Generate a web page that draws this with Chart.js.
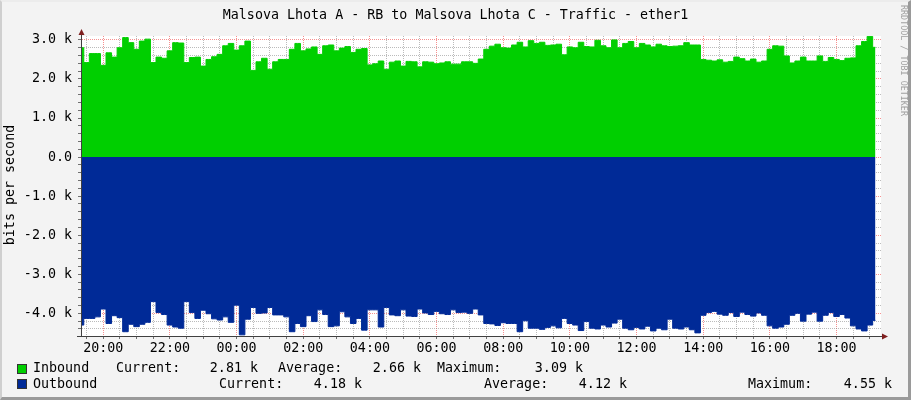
<!DOCTYPE html>
<html>
<head>
<meta charset="utf-8">
<script src="https://cdn.jsdelivr.net/npm/chart.js@4.4.1/dist/chart.umd.min.js"></script>
<style>
html, body { margin: 0; padding: 0; background: #fff; }
#wrap { position: relative; width: 911px; height: 400px; background: #f3f3f3; overflow: hidden;
  font-family: "DejaVu Sans Mono", monospace; font-size: 13.33px; color: #000; }
#wrap canvas { position: absolute; left: 0; top: 0; }
.t { position: absolute; white-space: pre; line-height: 16px; }
.r { text-align: right; }
.box { position: absolute; width: 10px; height: 10px; box-sizing: border-box; border: 1px solid #333; }
#frame { position: absolute; left: 0; top: 0; width: 911px; height: 400px; box-sizing: border-box;
  border-left: 2px solid #cfcfcf; border-top: 2px solid #ececec; border-right: 3px solid #9a9a9a; border-bottom: 3px solid #9a9a9a; pointer-events: none; }
#title { left: 0; width: 911px; top: 7px; text-align: center; }
#ylab { left: 10px; top: 185px; transform: translate(-50%, -50%) rotate(-90deg); }
#credit { left: 899px; top: 5px; writing-mode: vertical-rl; font-size: 8.4px; line-height: 10px; color: #a0a0a0; }
</style>
</head>
<body>
<div id="wrap">
  <canvas id="graph" width="911" height="400"></canvas>
  <div id="frame"></div>
  <div class="t" id="title">Malsova Lhota A - RB to Malsova Lhota C - Traffic - ether1</div>
  <div class="t" id="ylab">bits per second</div>
  <div class="t" id="credit">RRDTOOL / TOBI OETIKER</div>

  <div class="box" style="left:17px;top:364px;background:#00CF00"></div>
  <div class="t" style="left:33px;top:360px">Inbound</div>
  <div class="t" style="left:116px;top:360px">Current:</div>
  <div class="t r" style="right:653px;top:360px">2.81 k</div>
  <div class="t" style="left:278px;top:360px">Average:</div>
  <div class="t r" style="right:490px;top:360px">2.66 k</div>
  <div class="t" style="left:437px;top:360px">Maximum:</div>
  <div class="t r" style="right:328px;top:360px">3.09 k</div>

  <div class="box" style="left:17px;top:379px;background:#002A97"></div>
  <div class="t" style="left:33px;top:376px">Outbound</div>
  <div class="t" style="left:219px;top:376px">Current:</div>
  <div class="t r" style="right:549px;top:376px">4.18 k</div>
  <div class="t" style="left:484px;top:376px">Average:</div>
  <div class="t r" style="right:284px;top:376px">4.12 k</div>
  <div class="t" style="left:748px;top:376px">Maximum:</div>
  <div class="t r" style="right:19px;top:376px">4.55 k</div>
</div>
<script>
// 10 minute samples starting at 19:20, values in kbit/s
const startHour = 19 + 20 / 60;
const stepMinutes = 10;

const inbound = [
  2.80, 2.42, 2.65, 2.65, 2.35, 2.67, 2.56, 2.80, 3.06, 2.93,
  2.76, 2.97, 3.02, 2.42, 2.56, 2.53, 2.72, 2.93, 2.92, 2.42,
  2.55, 2.56, 2.33, 2.50, 2.57, 2.63, 2.85, 2.91, 2.74, 2.85,
  2.97, 2.22, 2.44, 2.53, 2.25, 2.44, 2.50, 2.50, 2.76, 2.91,
  2.72, 2.77, 2.82, 2.63, 2.85, 2.87, 2.72, 2.79, 2.83, 2.68,
  2.76, 2.78, 2.36, 2.39, 2.46, 2.25, 2.43, 2.46, 2.33, 2.45,
  2.44, 2.31, 2.44, 2.43, 2.39, 2.41, 2.44, 2.38, 2.38, 2.44,
  2.44, 2.40, 2.51, 2.76, 2.84, 2.89, 2.80, 2.79, 2.87, 2.94,
  2.82, 2.98, 2.91, 2.94, 2.86, 2.87, 2.89, 2.62, 2.82, 2.80,
  2.94, 2.83, 2.82, 2.99, 2.85, 2.80, 3.00, 2.80, 2.91, 2.96,
  2.80, 2.91, 2.87, 2.82, 2.89, 2.85, 2.83, 2.84, 2.85, 2.93,
  2.87, 2.87, 2.50, 2.48, 2.46, 2.49, 2.43, 2.45, 2.56, 2.52,
  2.46, 2.51, 2.43, 2.46, 2.76, 2.85, 2.84, 2.59, 2.41, 2.46,
  2.56, 2.46, 2.46, 2.59, 2.45, 2.55, 2.50, 2.47, 2.53, 2.54,
  2.85, 2.96, 3.09, 2.81
];

// outbound is drawn below zero
const outbound = [
  4.30, 4.13, 4.13, 4.09, 3.89, 4.26, 4.06, 4.11, 4.47, 4.28,
  4.34, 4.28, 4.23, 3.70, 3.98, 4.03, 4.30, 4.35, 4.38, 3.70,
  3.98, 4.13, 3.92, 4.01, 4.14, 4.17, 4.09, 4.23, 3.79, 4.55,
  4.15, 3.85, 4.00, 3.99, 3.85, 4.04, 4.04, 4.09, 4.47, 4.26,
  4.34, 4.06, 4.21, 3.91, 4.03, 4.34, 4.32, 3.96, 4.09, 4.26,
  4.13, 4.43, 3.91, 3.91, 4.35, 3.85, 4.04, 4.06, 3.91, 4.07,
  4.08, 3.89, 3.99, 4.03, 3.95, 4.01, 4.03, 3.91, 3.98, 3.97,
  4.00, 3.89, 4.04, 4.26, 4.27, 4.31, 4.24, 4.26, 4.26, 4.47,
  4.19, 4.38, 4.38, 4.41, 4.36, 4.32, 4.37, 4.13, 4.26, 4.30,
  4.44, 4.21, 4.38, 4.40, 4.30, 4.35, 4.25, 4.15, 4.38, 4.42,
  4.36, 4.40, 4.33, 4.45, 4.38, 4.42, 4.15, 4.38, 4.40, 4.35,
  4.42, 4.50, 4.05, 3.98, 3.95, 4.02, 4.05, 3.98, 4.08, 3.97,
  4.03, 4.07, 3.99, 4.05, 4.32, 4.38, 4.35, 4.28, 4.05, 4.00,
  4.20, 4.02, 3.97, 4.20, 4.05, 3.98, 4.08, 4.03, 4.12, 4.32,
  4.40, 4.45, 4.30, 4.18
];

const yMin = -4.58;
const yMax = 3.1;

const MAJOR = 'rgba(240, 70, 70, 0.6)';
const MINOR = 'rgba(120, 120, 120, 0.5)';
const monoFont = { family: 'DejaVu Sans Mono', size: 13.33 };

const toPoints = (arr, sign) => arr.map((v, i) => ({ x: startHour + i * stepMinutes / 60, y: sign * v }));
const isInt = v => Math.abs(v - Math.round(v)) < 1e-6;

const rrdFrame = {
  id: 'rrdFrame',
  beforeDraw(chart) {
    const { ctx, chartArea: a } = chart;
    ctx.save();
    ctx.fillStyle = '#ffffff';
    ctx.fillRect(a.left, a.top, a.right - a.left, a.bottom - a.top);
    ctx.restore();
  },
  afterDraw(chart) {
    const { ctx, chartArea: a } = chart;
    ctx.save();
    ctx.strokeStyle = '#404040';
    ctx.lineWidth = 1;
    ctx.beginPath();
    ctx.moveTo(a.left - 4, a.bottom + 0.5);
    ctx.lineTo(a.right + 2, a.bottom + 0.5);
    ctx.moveTo(a.left + 0.5, a.bottom + 1);
    ctx.lineTo(a.left + 0.5, a.top - 3);
    ctx.stroke();
    ctx.fillStyle = '#7f1f1f';
    ctx.beginPath();
    ctx.moveTo(a.left + 0.5, a.top - 7);
    ctx.lineTo(a.left - 2.5, a.top - 1);
    ctx.lineTo(a.left + 3.5, a.top - 1);
    ctx.fill();
    ctx.beginPath();
    ctx.moveTo(a.right + 7, a.bottom + 0.5);
    ctx.lineTo(a.right + 1, a.bottom - 2.5);
    ctx.lineTo(a.right + 1, a.bottom + 3.5);
    ctx.fill();
    ctx.restore();
  }
};

new Chart(document.getElementById('graph'), {
  type: 'line',
  data: {
    datasets: [{
      label: 'Inbound',
      data: toPoints(inbound, 1),
      fill: 'origin',
      backgroundColor: '#00CF00',
      borderColor: '#00CF00',
      borderWidth: 1,
      pointRadius: 0,
      stepped: 'middle'
    }, {
      label: 'Outbound',
      data: toPoints(outbound, -1),
      fill: 'origin',
      backgroundColor: '#002A97',
      borderColor: '#002A97',
      borderWidth: 1,
      pointRadius: 0,
      stepped: 'middle'
    }]
  },
  options: {
    responsive: false,
    devicePixelRatio: 1,
    animation: false,
    layout: { padding: { left: 0, top: 36, right: 30, bottom: 0 } },
    plugins: { legend: { display: false }, tooltip: { enabled: false } },
    scales: {
      x: {
        type: 'linear',
        min: startHour,
        max: startHour + 24,
        z: 1,
        afterFit: s => { s.height = 64; },
        afterBuildTicks: s => {
          const t = [];
          for (let v = Math.ceil(s.min * 2) / 2; v <= s.max; v += 0.5) t.push({ value: v });
          s.ticks = t;
        },
        grid: {
          color: c => (c.tick && isInt(c.tick.value) && Math.round(c.tick.value) % 2 === 0) ? MAJOR : MINOR,
          tickColor: '#707070',
          tickLength: 3,
          tickBorderDash: []
        },
        border: { color: '#404040', dash: [1, 1] },
        ticks: {
          autoSkip: false,
          maxRotation: 0,
          padding: 2,
          color: '#000',
          font: monoFont,
          callback: v => (isInt(v) && Math.round(v) % 2 === 0)
            ? String(Math.round(v) % 24).padStart(2, '0') + ':00' : ''
        }
      },
      y: {
        min: yMin,
        max: yMax,
        z: 1,
        afterFit: s => { s.width = 81; },
        afterBuildTicks: s => {
          const t = [];
          for (let i = Math.ceil(s.min * 5); i <= Math.floor(s.max * 5); i++) t.push({ value: i / 5 });
          s.ticks = t;
        },
        grid: {
          color: c => (c.tick && isInt(c.tick.value)) ? MAJOR : MINOR,
          tickColor: '#707070',
          tickLength: 3,
          tickBorderDash: []
        },
        border: { color: '#404040', dash: [1, 1] },
        ticks: {
          autoSkip: false,
          padding: 6,
          color: '#000',
          font: monoFont,
          callback: v => {
            if (!isInt(v)) return '';
            const n = Math.round(v);
            return n === 0 ? '0.0' : n.toFixed(1) + ' k';
          }
        }
      }
    }
  },
  plugins: [rrdFrame]
});
</script>
</body>
</html>
